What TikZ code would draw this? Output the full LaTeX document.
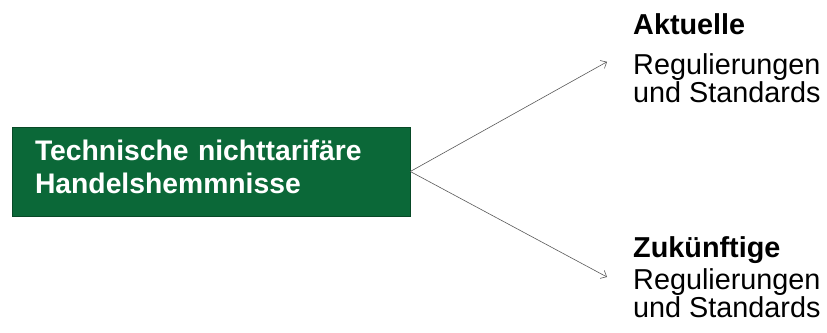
\documentclass[tikz,border=0pt]{standalone}
\usepackage{fontspec}
\setmainfont{Liberation Sans}
\usetikzlibrary{arrows.meta}
\definecolor{hemmgreen}{RGB}{11,104,56}
\tikzset{
    hemmbox/.style={fill=hemmgreen, draw=hemmgreen!70!black, line width=0.6pt,
        text=white, font=\fontsize{28.3}{33}\selectfont\bfseries,
        minimum width=398pt, minimum height=89pt, inner xsep=23pt,
        text width=352pt, align=left},
    ziel/.style={anchor=west, inner xsep=26pt, inner ysep=0pt, align=left,
        font=\fontsize{28.8}{28}\selectfont},
    pfeil/.style={-{Straight Barb[length=5pt, width=9pt]}, draw=black!65, line width=0.6pt}
}
\begin{document}
\begin{tikzpicture}[x=1pt, y=-1pt]
        \useasboundingbox (0,0) rectangle (827,332);

        \node[hemmbox] (hemm) at (211,171.5) {Technische nichttarifäre\\Handelshemmnisse\strut};

        \node[ziel] (akt) at (607,61.8) {\textbf{Aktuelle}\\[12pt]Regulierungen\\und Standards\strut};
        \node[ziel] (zuk) at (607,277) {\textbf{Zukünftige}\\[4pt]Regulierungen\\und Standards};

        \draw[pfeil] (hemm.east) -- (akt.west);
        \draw[pfeil] (hemm.east) -- (zuk.west);
    \end{tikzpicture}
\end{document}
